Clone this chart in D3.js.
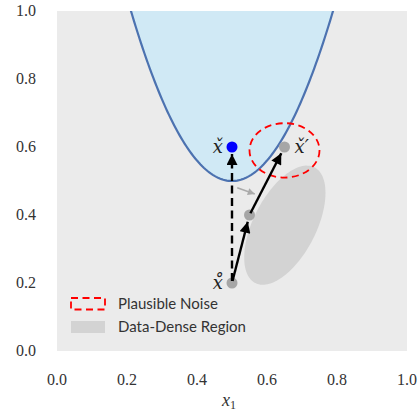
<!DOCTYPE html>
<html><head><meta charset="utf-8">
<script src="https://cdn.jsdelivr.net/npm/d3@7"></script>
<style>body{margin:0;background:#fff}</style>
</head><body>
<svg id="c" width="420" height="414"></svg>
<script>
// ---- data ----
const xTicks = [0.0, 0.2, 0.4, 0.6, 0.8, 1.0];
const yTicks = [0.0, 0.2, 0.4, 0.6, 0.8, 1.0];
const boundaryVertex = [0.5, 0.5];      // decision boundary y = 0.5 + k (x-0.5)^2
const boundaryK = 6;
const startPoint = [0.5, 0.2];          // x̊
const midPoint = [0.55, 0.4];
const endPoint = [0.65, 0.6];           // x̌'
const cfPoint = [0.5, 0.6];             // x̌
const grayArrow = [[0.515, 0.48], [0.565, 0.462]];
const noiseEllipse = {cx: 0.65, cy: 0.59, rx: 0.1, ry: 0.08};
const denseEllipse = {cx: 0.651, cy: 0.37, a: 0.19, b: 0.09, angleDeg: 64};
const legendLabels = ["Plausible Noise", "Data-Dense Region"];
const pointLabels = ["x\u030C", "x\u030C\u2032", "x\u030A"];

const SERIF = "'Liberation Serif', 'DejaVu Serif', serif";
const MSERIF = "'DejaVu Serif', 'Liberation Serif', serif";
const SANS = "Lato, 'DejaVu Sans', sans-serif";

const svg = d3.select("#c");
const L = 57, R = 407, T = 11, B = 351;
const x = d3.scaleLinear().domain([0, 1]).range([L, R]);
const y = d3.scaleLinear().domain([0, 1]).range([B, T]);

const defs = svg.append("defs");
defs.append("clipPath").attr("id", "clip").append("rect")
  .attr("x", L).attr("y", T).attr("width", R - L).attr("height", B - T);
function marker(id, color, w, h) {
  defs.append("marker").attr("id", id).attr("viewBox", "0 0 10 10")
    .attr("refX", 10).attr("refY", 5).attr("markerUnits", "userSpaceOnUse")
    .attr("markerWidth", w).attr("markerHeight", h).attr("orient", "auto")
    .append("path").attr("d", "M0,0 L10,5 L0,10 z").attr("fill", color);
}
marker("ah", "#000", 13, 11);
marker("ahg", "#aaa", 9, 7);

svg.append("rect").attr("x", L).attr("y", T).attr("width", R - L).attr("height", B - T)
  .attr("fill", "#ebebeb");

const g = svg.append("g").attr("clip-path", "url(#clip)");

// boundary curve
const xs = d3.range(0, 1.0001, 0.005);
const curve = xs.map(v => [v, boundaryVertex[1] + boundaryK * (v - boundaryVertex[0]) ** 2]);
g.append("path").datum(curve)
  .attr("d", d3.area().x(d => x(d[0])).y0(y(1.2)).y1(d => y(d[1])))
  .attr("fill", "#d0e9f5");
g.append("path").datum(curve)
  .attr("d", d3.line().x(d => x(d[0])).y(d => y(d[1])))
  .attr("fill", "none").attr("stroke", "#4c72b0").attr("stroke-width", 2.2);

// dense ellipse
const th = denseEllipse.angleDeg * Math.PI / 180;
const ell = d3.range(0, 2 * Math.PI + 0.01, 0.05).map(t => {
  const ex = denseEllipse.a * Math.cos(t), ey = denseEllipse.b * Math.sin(t);
  return [denseEllipse.cx + ex * Math.cos(th) - ey * Math.sin(th),
          denseEllipse.cy + ex * Math.sin(th) + ey * Math.cos(th)];
});
g.append("path").datum(ell)
  .attr("d", d3.line().x(d => x(d[0])).y(d => y(d[1])).curve(d3.curveLinearClosed))
  .attr("fill", "#d3d3d3");

// noise ellipse
g.append("ellipse").attr("cx", x(noiseEllipse.cx)).attr("cy", y(noiseEllipse.cy))
  .attr("rx", x(noiseEllipse.rx) - x(0)).attr("ry", y(0) - y(noiseEllipse.ry))
  .attr("fill", "none").attr("stroke", "#ff0000").attr("stroke-width", 1.8)
  .attr("stroke-dasharray", "7,4.5");

// gray arrow
g.append("line").attr("x1", x(grayArrow[0][0])).attr("y1", y(grayArrow[0][1]))
  .attr("x2", x(grayArrow[1][0])).attr("y2", y(grayArrow[1][1]))
  .attr("stroke", "#aaa").attr("stroke-width", 1.5).attr("marker-end", "url(#ahg)");

// arrows with shrink
function arrow(p, q, dashed) {
  const x1 = x(p[0]), y1 = y(p[1]), x2 = x(q[0]), y2 = y(q[1]);
  const d = Math.hypot(x2 - x1, y2 - y1), ux = (x2 - x1) / d, uy = (y2 - y1) / d;
  const s0 = 2, s1 = 7;
  g.append("line").attr("x1", x1 + ux * s0).attr("y1", y1 + uy * s0)
    .attr("x2", x2 - ux * s1).attr("y2", y2 - uy * s1)
    .attr("stroke", "#000").attr("stroke-width", 2.4)
    .attr("stroke-dasharray", dashed ? "8,4.5" : null)
    .attr("marker-end", "url(#ah)");
}

// points
const gp = [startPoint, midPoint, endPoint];
g.selectAll("circle.gp").data(gp).join("circle").attr("class", "gp")
  .attr("cx", d => x(d[0])).attr("cy", d => y(d[1])).attr("r", 5.5).attr("fill", "#a6a6a6");
g.append("circle").attr("cx", x(cfPoint[0])).attr("cy", y(cfPoint[1])).attr("r", 5.5).attr("fill", "#0000ff");

arrow(startPoint, cfPoint, true);
arrow(startPoint, midPoint, false);
arrow(midPoint, endPoint, false);

// math labels
const labelPos = [
  {p: cfPoint, dx: -9, anchor: "end"},
  {p: endPoint, dx: 10, anchor: "start"},
  {p: startPoint, dx: -9, anchor: "end"}
];
svg.selectAll("text.ml").data(labelPos).join("text").attr("class", "ml")
  .style("font-family", MSERIF)
  .attr("x", d => x(d.p[0]) + d.dx).attr("y", d => y(d.p[1]) + 6)
  .attr("text-anchor", d => d.anchor)
  .attr("font-style", "italic").attr("font-size", 18).attr("fill", "#222")
  .text((d, i) => pointLabels[i]);

// axes tick labels
svg.selectAll("text.xt").data(xTicks).join("text").attr("class", "xt")
  .style("font-family", SERIF)
  .attr("x", d => x(d)).attr("y", 385).attr("text-anchor", "middle")
  .attr("font-size", 16).attr("fill", "#333")
  .text(d => d.toFixed(1));
svg.selectAll("text.yt").data(yTicks).join("text").attr("class", "yt")
  .style("font-family", SERIF)
  .attr("x", 36).attr("y", d => y(d) + 5).attr("text-anchor", "end")
  .attr("font-size", 16).attr("fill", "#333")
  .text(d => d.toFixed(1));
const xl = svg.append("text").style("font-family", SERIF).attr("x", x(0.5) - 3).attr("y", 406).attr("text-anchor", "middle")
  .attr("font-size", 18).attr("fill", "#333");
xl.append("tspan").attr("font-style", "italic").text("x");
xl.append("tspan").attr("font-size", 12).attr("dy", 3).text("1");

// legend
svg.append("rect").attr("x", 71).attr("y", 298).attr("width", 34).attr("height", 11.5)
  .attr("fill", "none").attr("stroke", "#ff0000").attr("stroke-width", 1.8)
  .attr("stroke-dasharray", "7,4.5");
svg.append("rect").attr("x", 71).attr("y", 321).attr("width", 34).attr("height", 12)
  .attr("fill", "#d3d3d3");
svg.selectAll("text.lg").data(legendLabels).join("text").attr("class", "lg")
  .style("font-family", SANS)
  .attr("x", 118).attr("y", (d, i) => 308.5 + i * 23.5)
  .attr("font-size", 15).attr("fill", "#333")
  .text(d => d);
</script>
</body></html>
